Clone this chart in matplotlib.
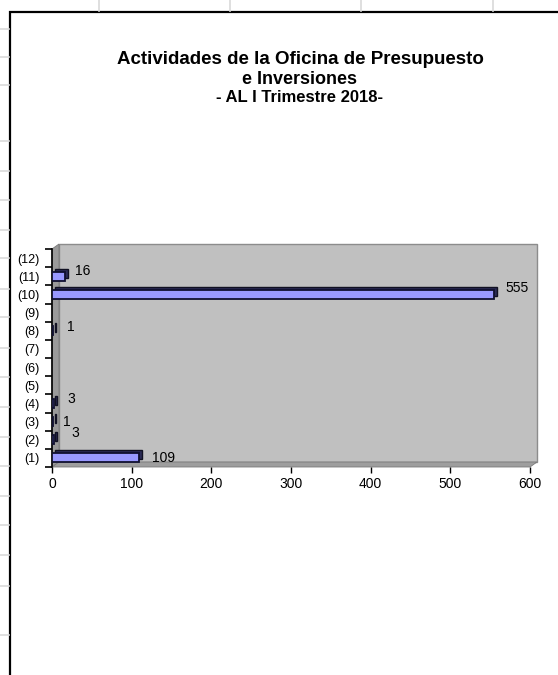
import matplotlib
matplotlib.use("Agg")
import matplotlib.pyplot as plt
from matplotlib.patches import Rectangle, Polygon
from matplotlib.transforms import offset_copy

plt.rcParams['font.family'] = ['Liberation Sans', 'DejaVu Sans']

# data
categories = ['(1)', '(2)', '(3)', '(4)', '(5)', '(6)', '(7)', '(8)', '(9)', '(10)', '(11)', '(12)']
values = [109, 3, 1, 3, None, None, None, 1, None, 555, 16, None]
title_lines = ['Actividades de la Oficina de Presupuesto', 'e Inversiones', '- AL I Trimestre 2018-']
xticks = [0, 100, 200, 300, 400, 500, 600]

# label nudges (pixels) so labels sit where Excel put them
label_nudge = {0: (13, 0), 1: (17, 7), 2: (10, 0), 3: (13, 4), 7: (14, 4), 9: (11, 6), 10: (10, 5)}

W, H = 558, 675
fig = plt.figure(figsize=(W / 100, H / 100), dpi=100)

# spreadsheet background: grid lines and the chart frame
bg = fig.add_axes([0, 0, 1, 1])
bg.set_xlim(0, W)
bg.set_ylim(H, 0)
bg.axis('off')
for gx in [99, 230, 361, 493]:
    bg.plot([gx, gx], [0, 11], color='#d9d9d9', lw=1.2)
for gy in [29, 57, 85, 141, 171, 200, 230, 258, 289, 317, 348, 377, 407, 437,
           466, 496, 525, 555, 586, 635]:
    bg.plot([0, 9], [gy, gy], color='#d9d9d9', lw=1.2)
bg.add_patch(Rectangle((9.5, 11.5), W, H, facecolor='white', edgecolor='black', lw=1.6))

title_y = [60, 80, 98]
title_size = [13.5, 13, 12]
for i, line in enumerate(title_lines):
    fig.text(300 / W, 1 - title_y[i] / H, line, ha='center', va='center',
             fontsize=title_size[i], fontweight='bold')

# main plot: front plane x 52->530 px, y 249->467 px
left, right, top, bottom = 52, 530, 249, 467
ax = fig.add_axes([left / W, 1 - bottom / H, (right - left) / W, (bottom - top) / H])
ax.set_xlim(0, 600)
ax.set_ylim(0.5, 12.5)
ax.patch.set_visible(False)

# 3D walls (depth offset in pixels)
dx, dy = 7 / (right - left), 5 / (bottom - top)
ax.add_patch(Rectangle((dx, dy), 1, 1, transform=ax.transAxes, facecolor='#c0c0c0',
                       edgecolor='#8c8c8c', lw=1, clip_on=False, zorder=0))
ax.add_patch(Polygon([(0, 0), (dx, dy), (dx, 1 + dy), (0, 1)], transform=ax.transAxes,
                     facecolor='#9a9a9a', edgecolor='#7a7a7a', lw=0.6, clip_on=False, zorder=0.5))
ax.add_patch(Polygon([(0, 0), (1, 0), (1 + dx, dy), (dx, dy)], transform=ax.transAxes,
                     facecolor='#9e9e9e', edgecolor='#7a7a7a', lw=0.6, clip_on=False, zorder=0.5))

ypos = [i + 1 for i, v in enumerate(values) if v is not None]
vals = [v for v in values if v is not None]
shadow = offset_copy(ax.transData, fig=fig, x=3, y=3, units='dots')
ax.barh(ypos, vals, height=0.5, color='#2b2b55', edgecolor='#111122', lw=1,
        transform=shadow, zorder=2)
ax.barh(ypos, vals, height=0.5, color='#9999ff', edgecolor='#101030', lw=1.3, zorder=3)

for i, v in enumerate(values):
    if v is None:
        continue
    nx, ny = label_nudge.get(i, (10, 0))
    ax.annotate(str(v), (v, i + 1), xytext=(nx * 0.72, ny * 0.72), textcoords='offset points',
                ha='left', va='center', fontsize=10, zorder=4)

# axes styling
for s in ['top', 'right', 'bottom']:
    ax.spines[s].set_visible(False)
ax.spines['left'].set_color('black')
ax.spines['left'].set_linewidth(1.2)
ax.set_xticks(xticks)
ax.set_xticklabels([str(t) for t in xticks], fontsize=10)
ax.tick_params(axis='x', length=4, width=1, direction='out', pad=3)
ax.set_yticks([i + 0.5 for i in range(13)])
ax.set_yticklabels([])
ax.tick_params(axis='y', which='major', length=5, width=1.2, direction='out')
ax.set_yticks(range(1, 13), minor=True)
ax.set_yticklabels(categories, minor=True, fontsize=9)
ax.tick_params(axis='y', which='minor', length=0, pad=9)

fig.savefig('out.png', dpi=100)
